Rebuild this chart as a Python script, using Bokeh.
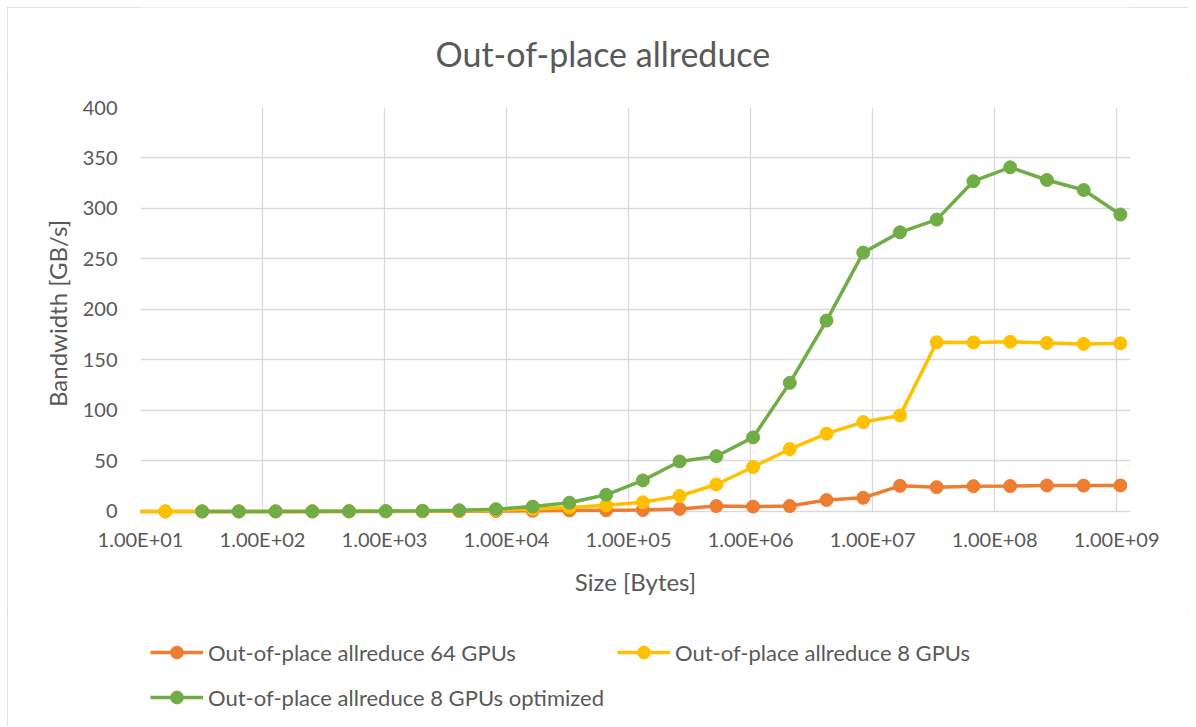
from bokeh.plotting import figure
from bokeh.models import Range1d, FixedTicker, Legend, LegendItem, Title
from bokeh.layouts import column
from bokeh.embed import file_html
from bokeh.resources import INLINE

# ---- data ----
sizes_64 = [8, 16, 32, 64, 128, 256, 512, 1024, 2048, 4096, 8192, 16384, 32768,
            65536, 131072, 262144, 524288, 1048576, 2097152, 4194304, 8388608,
            16777216, 33554432, 67108864, 134217728, 268435456, 536870912, 1073741824]
bw_64 = [0.0, 0.0, 0.0, 0.0, 0.0, 0.01, 0.02, 0.04, 0.08, 0.15, 0.3, 0.6, 1.0,
         1.2, 1.4, 2.5, 5.3, 4.8, 5.3, 11.3, 13.5, 25.3, 24.0, 25.0, 25.1, 25.7, 25.6, 25.7]

sizes_8 = [8, 16, 32, 64, 128, 256, 512, 1024, 2048, 4096, 8192, 16384, 32768,
           65536, 131072, 262144, 524288, 1048576, 2097152, 4194304, 8388608,
           16777216, 33554432, 67108864, 134217728, 268435456, 536870912, 1073741824]
bw_8 = [0.0, 0.0, 0.01, 0.01, 0.02, 0.04, 0.08, 0.15, 0.3, 0.6, 1.2, 2.5, 4.0,
        6.0, 9.0, 15.3, 26.7, 44.0, 61.7, 77.0, 88.5, 95.0, 167.5, 167.3, 168.0, 166.8, 165.9, 166.5]

sizes_opt = [32, 64, 128, 256, 512, 1024, 2048, 4096, 8192, 16384, 32768,
             65536, 131072, 262144, 524288, 1048576, 2097152, 4194304, 8388608,
             16777216, 33554432, 67108864, 134217728, 268435456, 536870912, 1073741824]
bw_opt = [0.01, 0.02, 0.04, 0.08, 0.15, 0.3, 0.6, 1.2, 2.2, 4.8, 8.6,
          16.5, 30.7, 49.5, 54.7, 73.3, 127.3, 189.0, 256.3, 276.4, 289.0, 327.0, 340.8, 328.2, 318.3, 294.0]

series_names = ["Out-of-place allreduce 64 GPUs",
                "Out-of-place allreduce 8 GPUs",
                "Out-of-place allreduce 8 GPUs optimized"]
series_colors = ["#ED7D31", "#FFC000", "#70AD47"]

x_ticks = [1e1, 1e2, 1e3, 1e4, 1e5, 1e6, 1e7, 1e8, 1e9]
x_tick_labels = ["1.00E+01", "1.00E+02", "1.00E+03", "1.00E+04", "1.00E+05",
                 "1.00E+06", "1.00E+07", "1.00E+08", "1.00E+09"]
y_ticks = [0, 50, 100, 150, 200, 250, 300, 350, 400]

title_text = "Out-of-place allreduce"
x_title = "Size [Bytes]"
y_title = "Bandwidth [GB/s]"

TEXT = "#595959"
GRID = "#D9D9D9"
FONT = "Lato"
W = 1181
BL, BR = 133, 58


def blank(fig):
    fig.outline_line_color = None
    fig.grid.visible = False
    return fig


# ---- title strip ----
t = blank(figure(width=W, frame_height=24, x_range=Range1d(0, 1), y_range=Range1d(0, 1),
                 x_axis_location=None, y_axis_location=None, title=None,
                 min_border_left=BL, min_border_right=BR, min_border_top=0, min_border_bottom=46,
                 output_backend="svg", toolbar_location=None,
                 background_fill_color="white", border_fill_color="white"))
t.add_layout(Title(text=title_text, align="left", offset=295, vertical_align="top",
                   standoff=2, text_font=FONT, text_font_size="34px",
                   text_font_style="normal", text_color=TEXT), "below")

# ---- main chart ----
p = figure(x_axis_type="log",
           x_range=Range1d(10, 1.3e9), y_range=Range1d(-8, 400),
           frame_width=990, frame_height=412, title=None,
           min_border_left=BL, min_border_right=BR,
           min_border_top=30, min_border_bottom=91,
           output_backend="svg", toolbar_location=None,
           background_fill_color="white", border_fill_color="white")
p.outline_line_color = None

xa = p.xaxis[0]
xa.ticker = FixedTicker(ticks=x_ticks)
xa.major_label_overrides = {t_: l for t_, l in zip(x_ticks, x_tick_labels)}
ya = p.yaxis[0]
ya.ticker = FixedTicker(ticks=y_ticks)
for ax in (xa, ya):
    ax.axis_line_color = None
    ax.major_tick_line_color = None
    ax.minor_tick_line_color = None
    ax.major_tick_out = 0
    ax.major_tick_in = 0
    ax.major_label_text_font = FONT
    ax.major_label_text_font_size = "20px"
    ax.major_label_text_color = TEXT
    ax.axis_label_text_font = FONT
    ax.axis_label_text_font_size = "24px"
    ax.axis_label_text_font_style = "normal"
    ax.axis_label_text_color = TEXT
xa.axis_label = x_title
ya.axis_label = y_title
xa.major_label_standoff = 7
xa.axis_label_standoff = 13
ya.major_label_standoff = 23
ya.axis_label_standoff = 8

p.xgrid.ticker = FixedTicker(ticks=x_ticks)
p.ygrid.ticker = FixedTicker(ticks=y_ticks)
for g in (p.xgrid, p.ygrid):
    g.grid_line_color = GRID
    g.grid_line_width = 1.3
p.xgrid.cross_bounds = (y_ticks[0], y_ticks[-1])

series = [(sizes_64, bw_64), (sizes_8, bw_8), (sizes_opt, bw_opt)]
for (xs, ys), col in zip(series, series_colors):
    p.line(xs, ys, line_color=col, line_width=3.5)
    p.scatter(xs, ys, size=13, fill_color=col, line_color=col)

# ---- legend strip (same series, drawn outside its view; only the legend shows) ----
q = blank(figure(width=W, height=116, x_range=Range1d(0, 1), y_range=Range1d(0, 1),
                 x_axis_location=None, y_axis_location=None, title=None,
                 min_border_left=BL, min_border_right=BR, min_border_top=16, min_border_bottom=0,
                 output_backend="svg", toolbar_location=None,
                 background_fill_color="white", border_fill_color="white"))
items = []
for (xs, ys), name, col in zip(series, series_names, series_colors):
    r1 = q.line(xs, ys, line_color=col, line_width=3.5)
    r2 = q.scatter(xs, ys, size=13, fill_color=col, line_color=col)
    items.append(LegendItem(label=name, renderers=[r1, r2]))
legend = Legend(items=items, location="top_left", orientation="horizontal", ncols=2,
                label_text_font=FONT, label_text_font_size="22px",
                label_text_color=TEXT, glyph_width=53, glyph_height=32,
                label_height=32, label_standoff=5, spacing=13,
                padding=0, margin=10, border_line_color=None,
                background_fill_alpha=0)
q.add_layout(legend, "center")

layout = column(t, p, q, spacing=0)
layout.styles = {"margin-left": "7px", "margin-top": "7px",
                 "outline": "1px solid #D9D9D9", "outline-offset": "-1px"}

open("out.html", "w").write(file_html(layout, INLINE))
